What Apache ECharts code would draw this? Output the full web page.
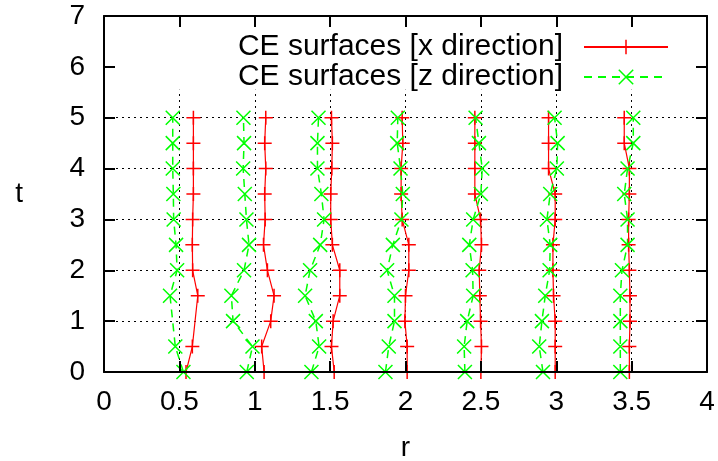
<!DOCTYPE html>
<html>
<head>
<meta charset="utf-8">
<script src="https://cdn.jsdelivr.net/npm/echarts@6/dist/echarts.min.js"></script>
<style>
  html, body { margin: 0; padding: 0; background: #fff; }
  #chart { width: 718px; height: 461px; }
</style>
</head>
<body>
<div id="chart"></div>
<script>
// t values (rows), one r value per surface for each t
const tValues = [0, 0.5, 1, 1.5, 2, 2.5, 3, 3.5, 4, 4.5, 5]

// CE surfaces, x direction (one array per surface)
const xDirection = [
  [0.544, 0.586, null, 0.622, 0.588, 0.586, 0.588, 0.593, 0.593, 0.593, 0.593],
  [1.062, 1.046, 1.106, 1.128, 1.084, 1.058, 1.069, 1.066, 1.073, 1.066, 1.073],
  [1.527, 1.509, 1.520, 1.564, 1.564, 1.515, 1.504, 1.504, 1.511, 1.515, 1.509],
  [2.011, 2.011, 1.996, 2.000, 2.022, 2.022, 1.978, 1.971, 1.971, 1.982, 1.978],
  [2.500, 2.504, 2.498, 2.493, 2.489, 2.504, 2.498, 2.460, 2.460, 2.460, 2.460],
  [2.993, 2.993, 2.993, 2.982, 2.978, 2.978, 2.993, 2.993, 2.949, 2.949, 2.949],
  [3.485, 3.485, 3.489, 3.489, 3.485, 3.480, 3.480, 3.485, 3.485, 3.451, 3.451]
]

// CE surfaces, z direction
const zDirection = [
  [0.527, 0.473, null, 0.438, 0.485, 0.478, 0.462, 0.460, 0.456, 0.456, 0.456],
  [0.947, 0.985, 0.856, 0.845, 0.929, 0.962, 0.945, 0.934, 0.923, 0.929, 0.925],
  [1.376, 1.427, 1.405, 1.334, 1.367, 1.434, 1.460, 1.442, 1.416, 1.416, 1.423],
  [1.867, 1.889, 1.927, 1.927, 1.878, 1.916, 1.973, 1.982, 1.967, 1.945, 1.949],
  [2.394, 2.389, 2.409, 2.449, 2.445, 2.423, 2.449, 2.500, 2.509, 2.487, 2.465],
  [2.912, 2.887, 2.905, 2.927, 2.956, 2.960, 2.938, 2.960, 3.004, 3.009, 2.989],
  [3.425, 3.425, 3.425, 3.425, 3.436, 3.473, 3.473, 3.451, 3.473, 3.511, 3.511]
]

const xGridAt = [0.5, 1, 1.5, 2, 2.5, 3, 3.5]
const yGridAt = [1, 2, 3, 4, 5]
const xGridTop = 5.55

const nameX = 'CE surfaces [x direction]'
const nameZ = 'CE surfaces [z direction]'
const FONT = 'Liberation Sans, Arial, Helvetica, sans-serif'

const plusPath = 'path://M0,5L10,5M5,0L5,10'
const crossPath = 'path://M0,0L10,10M0,10L10,0'

const toPoints = rs => rs
  .map((r, i) => (r == null ? null : [r, tValues[i]]))
  .filter(p => p)

const gridLines = [
  ...xGridAt.map(x => [{ coord: [x, 0] }, { coord: [x, xGridTop] }]),
  ...yGridAt.map(y => [{ coord: [0, y] }, { coord: [4, y] }])
]

const series = []
xDirection.forEach((rs, i) => {
  series.push({
    name: nameX,
    type: 'line',
    data: toPoints(rs),
    clip: false,
    symbol: plusPath,
    symbolSize: 14,
    itemStyle: { color: '#ff0000', borderColor: '#ff0000', borderWidth: 1.5 },
    lineStyle: { color: '#ff0000', width: 1.2 },
    emphasis: { disabled: true },
    z: 3,
    markLine: i === 0 ? {
      silent: true,
      symbol: 'none',
      label: { show: false },
      lineStyle: { color: '#000', width: 1, type: [2, 4] },
      data: gridLines,
      z: 1
    } : undefined
  })
})
zDirection.forEach(rs => {
  series.push({
    name: nameZ,
    type: 'line',
    data: toPoints(rs),
    clip: false,
    symbol: crossPath,
    symbolSize: 14,
    itemStyle: { color: '#00ff00', borderColor: '#00ff00', borderWidth: 1.5 },
    lineStyle: { color: '#00ff00', width: 1.5, type: [8, 6] },
    emphasis: { disabled: true },
    z: 3
  })
})

const axisCommon = {
  type: 'value',
  axisLine: { show: true, onZero: false, lineStyle: { color: '#000', width: 2 } },
  axisTick: { show: true, inside: true, length: 11, lineStyle: { color: '#000', width: 2 } },
  splitLine: { show: false },
  z: 5
}

const chart = echarts.init(document.getElementById('chart'))
chart.setOption({
  animation: false,
  backgroundColor: '#fff',
  grid: { left: 104, right: 11, top: 16, bottom: 89, outerBoundsMode: 'none', containLabel: false },
  legend: {
    orient: 'vertical',
    right: 44,
    top: 27,
    align: 'right',
    itemWidth: 84,
    itemHeight: 18,
    itemGap: 0,
    data: [
      { name: nameX, itemStyle: { color: '#ff0000', borderColor: '#ff0000', borderWidth: 1.5 } },
      { name: nameZ, itemStyle: { color: '#00ff00', borderColor: '#00ff00', borderWidth: 1.5 } }
    ],
    textStyle: { fontSize: 30, lineHeight: 27, fontFamily: FONT, color: '#000', padding: [0, 16, 0, 0] }
  },
  xAxis: [
    {
      ...axisCommon,
      position: 'bottom',
      min: 0, max: 4, interval: 0.5,
      name: 'r',
      nameLocation: 'middle',
      nameGap: 62,
      nameTextStyle: { fontSize: 28, fontFamily: FONT, color: '#000' },
      axisLabel: { margin: 16, fontSize: 28, fontFamily: FONT, color: '#000' }
    },
    {
      ...axisCommon,
      position: 'top',
      min: 0, max: 4, interval: 0.5,
      axisLabel: { show: false }
    }
  ],
  yAxis: [
    {
      ...axisCommon,
      position: 'left',
      min: 0, max: 7, interval: 1,
      name: 't',
      nameLocation: 'middle',
      nameRotate: 0,
      nameGap: 81,
      nameTextStyle: { fontSize: 28, fontFamily: FONT, color: '#000' },
      axisLabel: { margin: 19, fontSize: 28, fontFamily: FONT, color: '#000' }
    },
    {
      ...axisCommon,
      position: 'right',
      min: 0, max: 7, interval: 1,
      axisLabel: { show: false }
    }
  ],
  series
})
</script>
</body>
</html>
